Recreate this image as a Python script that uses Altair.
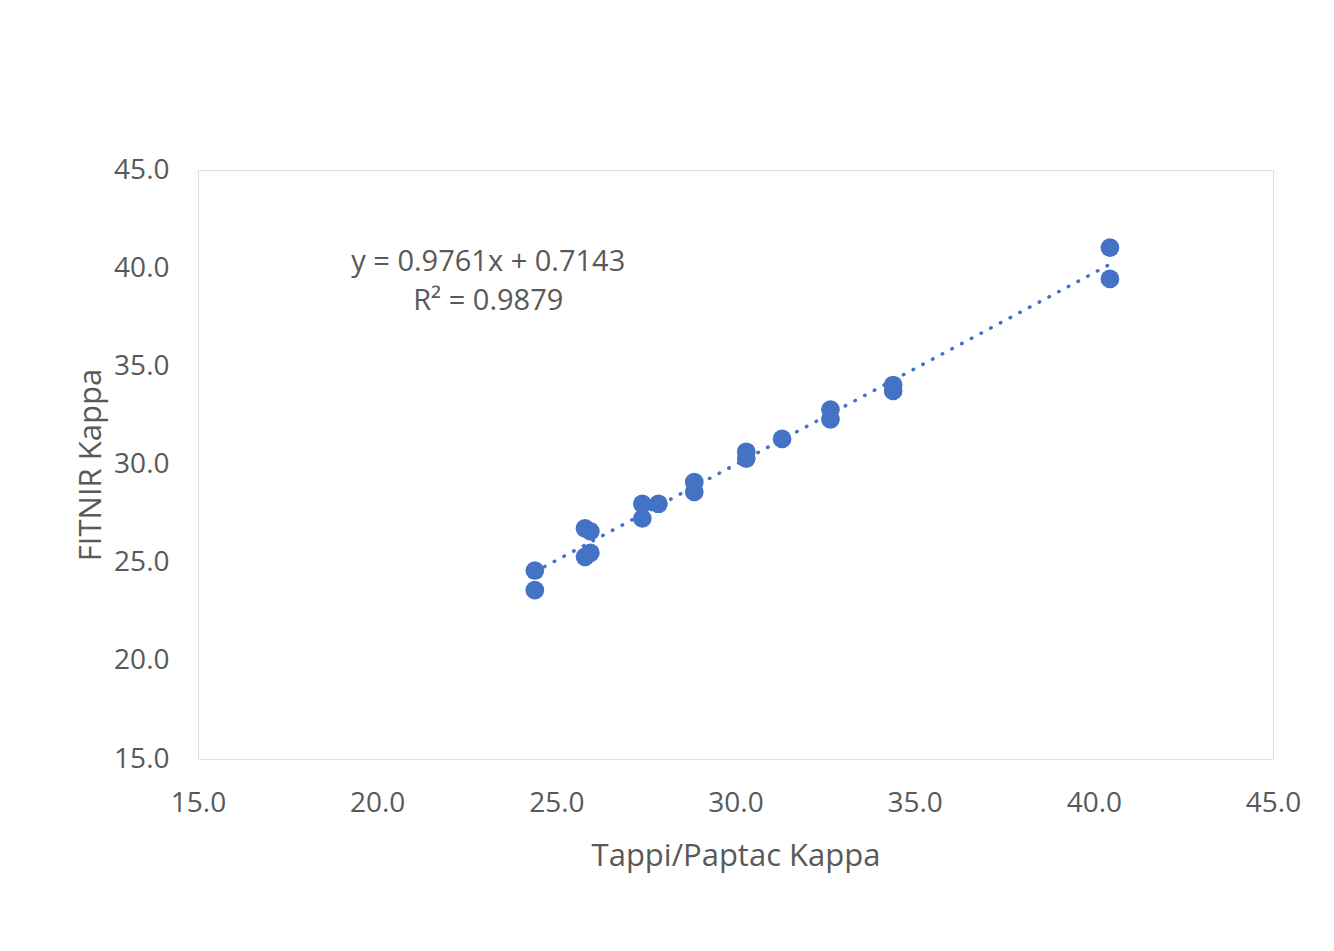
import altair as alt
import pandas as pd

# Data
tappi = [24.4, 24.4, 25.8, 25.95, 25.8, 25.95, 27.4, 27.85, 27.4, 28.85, 28.85,
         30.3, 30.3, 31.3, 32.65, 32.65, 34.4, 34.4, 40.45, 40.45]
fitnir = [24.6, 23.6, 26.75, 26.6, 25.3, 25.5, 28.0, 28.0, 27.25, 29.1, 28.6,
          30.65, 30.3, 31.3, 32.8, 32.3, 34.05, 33.75, 41.05, 39.45]
slope = 0.9761
intercept = 0.7143
eq_lines = ["y = 0.9761x + 0.7143", "R² = 0.9879"]
eq_x = [23.1, 23.1]
eq_y = [40.3, 38.35]
tick_values = [15, 20, 25, 30, 35, 40, 45]

pts = pd.DataFrame({"x": tappi, "y": fitnir})
xmin, xmax = min(tappi), max(tappi)
trend = pd.DataFrame({"x": [xmin, xmax],
                      "y": [slope * xmin + intercept, slope * xmax + intercept]})
ann = pd.DataFrame({"x": eq_x, "y": eq_y, "t": eq_lines})

font = "Open Sans"
grey = "#595959"

xs = alt.Scale(domain=[15, 45], nice=False, zero=False)
ys = alt.Scale(domain=[15, 45], nice=False, zero=False)

xaxis = alt.Axis(title="Tappi/Paptac Kappa", values=tick_values,
                 format=".1f", grid=False, ticks=False, domain=False, labelFlush=False,
                 labelFontSize=28, labelColor=grey, labelFont=font, labelPadding=30,
                 titleFontSize=31, titleColor=grey, titleFont=font, titleFontWeight="normal",
                 titlePadding=24)
yaxis = alt.Axis(title="FITNIR Kappa", values=tick_values,
                 format=".1f", grid=False, ticks=False, domain=False, labelFlush=False,
                 labelFontSize=28, labelColor=grey, labelFont=font, labelPadding=29,
                 titleFontSize=31, titleColor=grey, titleFont=font, titleFontWeight="normal",
                 titlePadding=6)

points = alt.Chart(pts).mark_circle(size=350, color="#4472C4", opacity=1).encode(
    x=alt.X("x:Q", scale=xs, axis=xaxis),
    y=alt.Y("y:Q", scale=ys, axis=yaxis),
)

line = alt.Chart(trend).mark_line(color="#4472C4", strokeWidth=3.5,
                                  strokeDash=[0.5, 10.5], strokeCap="round").encode(
    x=alt.X("x:Q", scale=xs),
    y=alt.Y("y:Q", scale=ys),
)

text = alt.Chart(ann).mark_text(fontSize=29, font=font, color=grey, align="center",
                                baseline="middle").encode(
    x=alt.X("x:Q", scale=xs),
    y=alt.Y("y:Q", scale=ys),
    text="t:N",
)

chart = alt.layer(line, points, text).properties(
    width=1075, height=589,
    autosize=alt.AutoSizeParams(type="none"),
    padding={"left": 190, "top": 162, "right": 50, "bottom": 170},
).configure_view(stroke="#d0d0d0", strokeWidth=1.5).configure(background="white")

chart.save("out.html", embed_options={"renderer": "svg", "actions": False})
